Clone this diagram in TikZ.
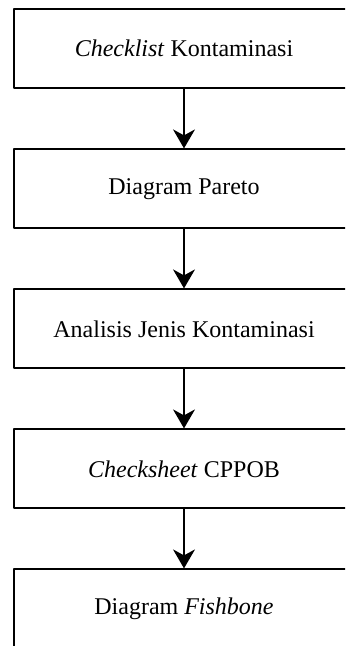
\documentclass[tikz,border=0pt]{standalone}
\usepackage{fontspec}
\setmainfont{Liberation Serif}
\usetikzlibrary{arrows.meta}

\begin{document}
\begin{tikzpicture}[x=0.5pt,y=-0.5pt, font=\fontsize{12}{14}\selectfont, line join=round,
  stepbox/.style={draw, line width=0.9pt, minimum width=170pt, minimum height=39.5pt, inner sep=0pt},
  flow/.style={-{Stealth[length=9.5pt,width=11pt,inset=3pt]}, line width=0.7pt}]
\useasboundingbox (0,0) rectangle (345,646);
\clip (0,0) rectangle (345,646);
\node[stepbox] (checklist) at (184,48.5) {\textit{Checklist} Kontaminasi};
\node[stepbox] (pareto) at (184,188.8) {Diagram Pareto};
\node[stepbox] (jenis) at (184,328.8) {Analisis Jenis Kontaminasi};
\node[stepbox] (cppob) at (184,468.8) {\textit{Checksheet} CPPOB};
\node[stepbox] (fishbone) at (184,608.8) {Diagram \textit{Fishbone}};
% arrows between the steps
\draw[flow] (checklist) -- (pareto);
\draw[flow] (pareto) -- (jenis);
\draw[flow] (jenis) -- (cppob);
\draw[flow] (cppob) -- (fishbone);
\end{tikzpicture}
\end{document}
